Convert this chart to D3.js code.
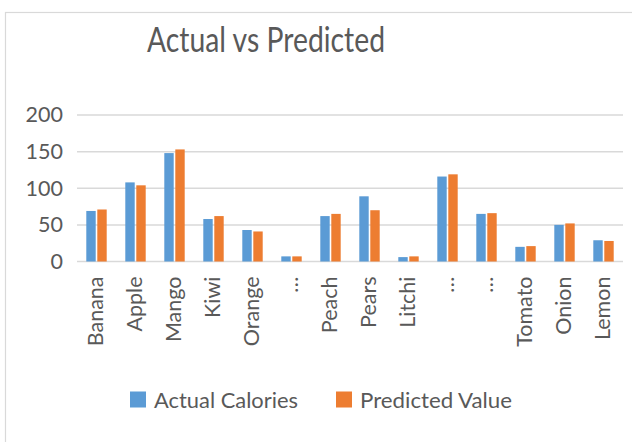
<!DOCTYPE html>
<html>
<head>
<meta charset="utf-8">
<script src="https://cdn.jsdelivr.net/npm/d3@7"></script>
<style>
  html, body { margin: 0; padding: 0; background: #fff; }
  svg text { font-family: Lato, "Open Sans", sans-serif; fill: #595959; }
</style>
</head>
<body>
<svg id="chart" width="632" height="442"></svg>
<script>
// Calories per food item: actual vs model prediction
const categories = ["Banana", "Apple", "Mango", "Kiwi", "Orange", "…", "Peach", "Pears", "Litchi", "…", "…", "Tomato", "Onion", "Lemon"];
const actualCalories = [69, 108, 148, 58, 43, 7, 62, 89, 6, 116, 65, 20, 50, 29];
const predictedValue = [71, 104, 153, 62, 41, 7, 65, 70, 7, 119, 66, 21, 52, 28];
const seriesNames = ["Actual Calories", "Predicted Value"];
const seriesColors = ["#5b9bd5", "#ed7d31"];
const yTicks = [0, 50, 100, 150, 200];

const svg = d3.select("#chart");
const W = 632, H = 442;

// chart area frame
svg.append("rect")
  .attr("x", 5.5).attr("y", 12.5)
  .attr("width", W + 10).attr("height", H + 10)
  .attr("fill", "#fff").attr("stroke", "#d9d9d9").attr("stroke-width", 1.2);

const plot = { left: 77, right: 623, top: 115, bottom: 261.5 };

const x = d3.scaleBand()
  .domain(d3.range(categories.length))
  .range([plot.left, plot.right])
  .paddingInner(0).paddingOuter(0);

const y = d3.scaleLinear().domain([0, 200]).range([plot.bottom, plot.top]);

// horizontal gridlines
svg.append("g")
  .selectAll("line")
  .data(yTicks)
  .join("line")
  .attr("x1", plot.left).attr("x2", plot.right)
  .attr("y1", d => y(d)).attr("y2", d => y(d))
  .attr("stroke", "#d9d9d9").attr("stroke-width", 1.5);

// y axis labels
const yAxis = svg.append("g")
  .attr("transform", `translate(${plot.left},0)`)
  .call(d3.axisLeft(y).tickValues(yTicks).tickSize(0).tickPadding(14));
yAxis.select(".domain").remove();
yAxis.selectAll("text")
  .style("font-size", "21.5px")
  .style("fill", "#595959");

// grouped bars
const barW = 9.4, gap = 1.6;
const series = [actualCalories, predictedValue];
series.forEach((vals, si) => {
  svg.append("g")
    .selectAll("rect")
    .data(vals)
    .join("rect")
    .attr("x", (d, i) => x(i) + x.bandwidth() / 2 - barW - gap / 2 + si * (barW + gap))
    .attr("y", d => y(d))
    .attr("width", barW)
    .attr("height", d => y(0) - y(d))
    .attr("fill", seriesColors[si]);
});

// category labels, rotated
const xAxis = svg.append("g")
  .attr("transform", `translate(0,${plot.bottom})`)
  .call(d3.axisBottom(x).tickSize(0).tickFormat(i => categories[i]));
xAxis.select(".domain").remove();
xAxis.selectAll("text")
  .style("font-size", "21.5px")
  .style("fill", "#595959")
  .attr("text-anchor", "end")
  .attr("transform", "rotate(-90)")
  .attr("x", -15)
  .attr("y", -1.5)
  .attr("dy", "0.35em");

// title
svg.append("text")
  .attr("x", 266).attr("y", 52)
  .attr("text-anchor", "middle")
  .attr("textLength", 238)
  .attr("lengthAdjust", "spacingAndGlyphs")
  .style("font-size", "34px")
  .text("Actual vs Predicted");

// legend
const legend = svg.append("g");
const legendX = [130, 336];
const legendTextW = [144, 152];
seriesNames.forEach((name, i) => {
  legend.append("rect")
    .attr("x", legendX[i]).attr("y", 391.5)
    .attr("width", 16).attr("height", 16)
    .attr("fill", seriesColors[i]);
  legend.append("text")
    .attr("x", legendX[i] + 24).attr("y", 408)
    .attr("textLength", legendTextW[i])
    .attr("lengthAdjust", "spacingAndGlyphs")
    .style("font-size", "21.5px")
    .text(name);
});
</script>
</body>
</html>
